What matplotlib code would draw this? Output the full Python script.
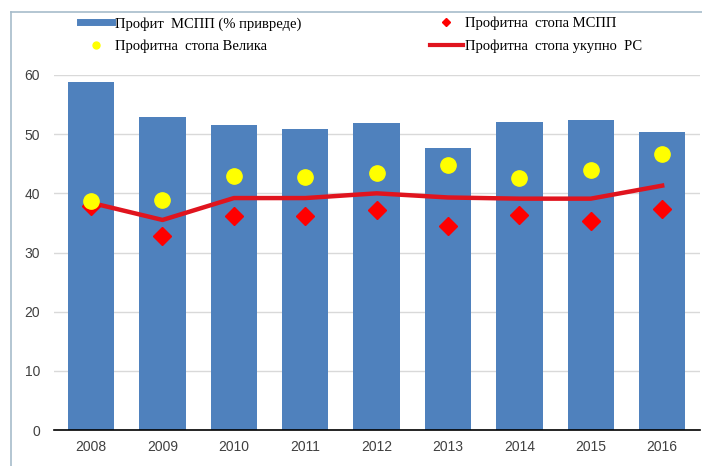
import matplotlib.pyplot as plt
from matplotlib.lines import Line2D

years = ["2008", "2009", "2010", "2011", "2012", "2013", "2014", "2015", "2016"]
profit_mspp = [58.8, 52.9, 51.5, 50.8, 51.9, 47.6, 52.0, 52.4, 50.3]
stopa_mspp = [37.9, 32.8, 36.1, 36.1, 37.2, 34.5, 36.4, 35.3, 37.3]
stopa_velika = [38.7, 38.9, 43.0, 42.8, 43.5, 44.8, 42.6, 43.9, 46.7]
stopa_ukupno = [38.4, 35.5, 39.2, 39.2, 40.0, 39.3, 39.1, 39.1, 41.3]

x = list(range(len(years)))

fig = plt.figure(figsize=(7.02, 4.66), dpi=100)
ax = fig.add_axes([54/702, 1 - 430/466, 646/702, 355/466])

ax.bar(x, profit_mspp, width=0.65, color="#4F81BD", zorder=2,
       label="Профит  МСПП (% привреде)")
l_line, = ax.plot(x, stopa_ukupno, color="#E0141E", lw=3.2, zorder=3,
                  solid_joinstyle="round", label="Профитна  стопа укупно  РС")
ax.plot(x, stopa_mspp, ls="none", marker="D", ms=9.5, color="#FF0000", zorder=4,
        label="Профитна  стопа МСПП")
ax.plot(x, stopa_velika, ls="none", marker="o", ms=11, color="#FFFF00", zorder=5,
        label="Профитна  стопа Велика")

ax.set_xlim(-0.52, 8.53)
ax.set_ylim(0, 60)
ax.set_yticks(range(0, 61, 10))
ax.set_xticks(x)
ax.set_xticklabels(years)
ax.grid(axis="y", color="#D9D9D9", lw=1, zorder=0)
for s in ["left", "right", "top"]:
    ax.spines[s].set_visible(False)
ax.spines["bottom"].set_color("black")
ax.spines["bottom"].set_linewidth(1.2)
ax.spines["bottom"].set_zorder(6)
ax.tick_params(length=0, labelsize=10, labelcolor="#404040", pad=7)
ax.tick_params(axis="y", pad=10)
for t in ax.get_xticklabels() + ax.get_yticklabels():
    t.set_family("Liberation Sans")

# legend, two columns
h_bar = Line2D([], [], color="#4F81BD", lw=5)
h_yel = Line2D([], [], ls="none", marker="o", ms=5, color="#FFFF00")
h_dia = Line2D([], [], ls="none", marker="D", ms=4, color="#FF0000")
h_lin = Line2D([], [], color="#E0141E", lw=3)
fig.legend([h_bar, h_yel, h_dia, h_lin],
           ["Профит  МСПП (% привреде)", "Профитна  стопа Велика",
            "Профитна  стопа МСПП", "Профитна  стопа укупно  РС"],
           ncol=2, loc="upper left", bbox_to_anchor=(80/702, 1 - 17/466),
           frameon=False, prop={"family": "Liberation Serif", "size": 10.5},
           handlelength=2.2, handletextpad=0.2, columnspacing=8.85,
           labelspacing=0.6, borderaxespad=0, borderpad=0)

# outer frame
fig.add_artist(Line2D([11/702, 11/702], [0, 1 - 12/466], color="#A7BCCB", lw=1.2))
fig.add_artist(Line2D([11/702, 1], [1 - 12/466, 1 - 12/466], color="#A7BCCB", lw=1.2))

fig.savefig("out.png", dpi=100)
